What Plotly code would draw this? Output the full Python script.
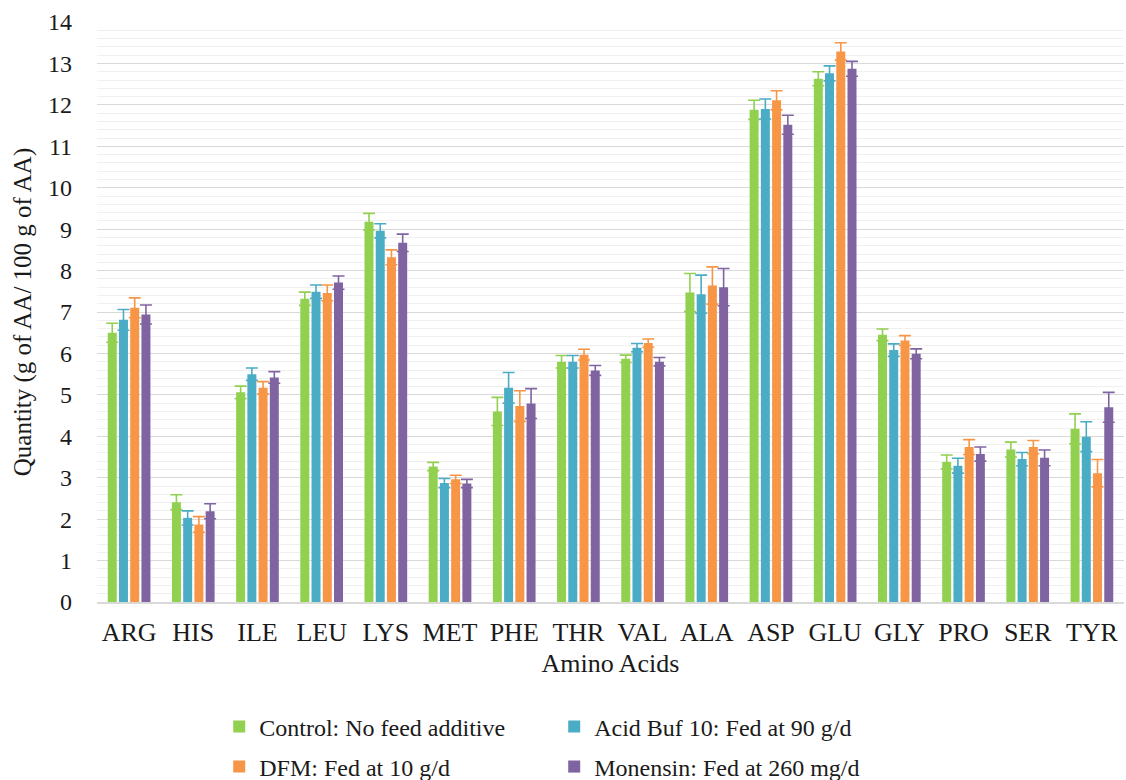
import plotly.graph_objects as go

categories = ["ARG", "HIS", "ILE", "LEU", "LYS", "MET", "PHE", "THR", "VAL",
              "ALA", "ASP", "GLU", "GLY", "PRO", "SER", "TYR"]

control = [6.50, 2.41, 5.06, 7.32, 9.18, 3.27, 4.60, 5.80, 5.87, 7.47, 11.88, 12.63, 6.45, 3.38, 3.68, 4.18]
control_err = [0.23, 0.18, 0.15, 0.16, 0.20, 0.10, 0.34, 0.15, 0.09, 0.46, 0.23, 0.17, 0.14, 0.17, 0.18, 0.36]

acid = [6.81, 2.03, 5.50, 7.49, 8.96, 2.87, 5.17, 5.80, 6.14, 7.43, 11.90, 12.76, 6.08, 3.29, 3.45, 3.99]
acid_err = [0.25, 0.17, 0.15, 0.16, 0.17, 0.11, 0.37, 0.15, 0.10, 0.46, 0.24, 0.18, 0.15, 0.18, 0.16, 0.36]

dfm = [7.10, 1.87, 5.17, 7.46, 8.32, 2.96, 4.73, 5.97, 6.25, 7.64, 12.11, 13.29, 6.31, 3.74, 3.74, 3.11]
dfm_err = [0.24, 0.19, 0.15, 0.19, 0.18, 0.10, 0.37, 0.13, 0.10, 0.45, 0.23, 0.21, 0.12, 0.18, 0.16, 0.33]

monensin = [6.94, 2.19, 5.42, 7.71, 8.67, 2.86, 4.79, 5.59, 5.80, 7.60, 11.52, 12.87, 5.99, 3.57, 3.48, 4.70]
monensin_err = [0.23, 0.18, 0.14, 0.16, 0.21, 0.10, 0.36, 0.12, 0.10, 0.45, 0.23, 0.18, 0.12, 0.17, 0.19, 0.36]

series = [
    ("Control: No feed additive", control, control_err, "#92D050", "legend"),
    ("Acid Buf 10: Fed at 90 g/d", acid, acid_err, "#4BACC6", "legend"),
    ("DFM: Fed at 10 g/d", dfm, dfm_err, "#F79646", "legend2"),
    ("Monensin: Fed at 260 mg/d", monensin, monensin_err, "#8064A2", "legend2"),
]

FONT = "Times New Roman, Liberation Serif, serif"
TXT = "#1a1a1a"

fig = go.Figure()
for name, vals, errs, color, leg in series:
    fig.add_trace(go.Bar(
        name=name, x=categories, y=vals, marker_color=color,
        marker_line_width=0, legend=leg,
        error_y=dict(type="data", array=errs, visible=True, color=color,
                     thickness=1.6, width=6),
    ))

legend_common = dict(orientation="h", x=0.119, xanchor="left", yanchor="middle",
                     yref="container",
                     entrywidth=290, entrywidthmode="pixels",
                     font=dict(family=FONT, size=24, color=TXT),
                     bgcolor="rgba(0,0,0,0)")

fig.update_layout(
    width=1126, height=780,
    margin=dict(l=97, r=2, t=22, b=178, autoexpand=False),
    paper_bgcolor="white", plot_bgcolor="white",
    barmode="group", bargap=0.3, bargroupgap=0.2,
    font=dict(family=FONT, size=22, color=TXT),
    legend=dict(**legend_common, y=0.068),
    legend2=dict(**legend_common, y=0.0167),
    xaxis=dict(
        title=dict(text="Amino Acids", font=dict(family=FONT, size=26, color=TXT), standoff=8),
        tickfont=dict(family=FONT, size=26, color=TXT),
        ticklabelstandoff=6,
        showline=True, linecolor="#d9d9d9", linewidth=1.5,
        ticks="", showgrid=False,
    ),
    yaxis=dict(
        title=dict(text="Quantity (g of AA/ 100 g of AA)", font=dict(family=FONT, size=25, color=TXT), standoff=9),
        range=[0, 14], dtick=1, tick0=0,
        tickfont=dict(family=FONT, size=24, color=TXT),
        ticklabelstandoff=24,
        showgrid=True, gridcolor="#d9d9d9", gridwidth=1.2,
        minor=dict(dtick=0.2, showgrid=True, gridcolor="#f0f0f0", gridwidth=1),
        zeroline=False, ticks="",
    ),
)

fig.write_html("out.html", config={"displayModeBar": False},
               post_script="document.body.style.margin='0';document.body.style.overflow='hidden';")
